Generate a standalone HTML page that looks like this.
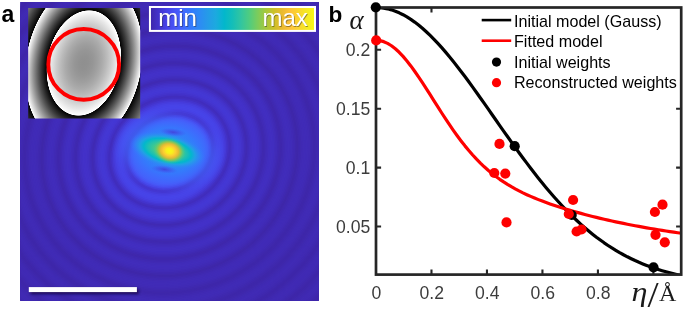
<!DOCTYPE html>
<html><head><meta charset="utf-8"><title>figure</title>
<style>html,body{margin:0;padding:0;background:#fff}svg{display:block}</style></head>
<body>
<svg width="685" height="309" viewBox="0 0 685 309">
<defs><radialGradient id="bh" cx="0.5" cy="0.5" r="0.5"><stop offset="0" stop-color="#2798ea" stop-opacity="1"/><stop offset="0.3" stop-color="#2d8bf4" stop-opacity="1"/><stop offset="0.5" stop-color="#327dfb" stop-opacity="0.9"/><stop offset="0.65" stop-color="#3b70fd" stop-opacity="0.7"/><stop offset="0.8" stop-color="#4367fd" stop-opacity="0.4"/><stop offset="0.9" stop-color="#455ffa" stop-opacity="0.18"/><stop offset="1" stop-color="#4758f7" stop-opacity="0"/></radialGradient><radialGradient id="ba" cx="0.5" cy="0.5" r="0.5"><stop offset="0" stop-color="#82cb58" stop-opacity="1"/><stop offset="0.2" stop-color="#68cc6c" stop-opacity="1"/><stop offset="0.35" stop-color="#42c98e" stop-opacity="1"/><stop offset="0.5" stop-color="#20c1af" stop-opacity="1"/><stop offset="0.62" stop-color="#02b7cc" stop-opacity="1"/><stop offset="0.72" stop-color="#20a4e3" stop-opacity="0.9"/><stop offset="0.82" stop-color="#2a91ef" stop-opacity="0.65"/><stop offset="0.92" stop-color="#3181f9" stop-opacity="0.28"/><stop offset="1" stop-color="#3972fd" stop-opacity="0"/></radialGradient><radialGradient id="bb" cx="0.5" cy="0.5" r="0.5"><stop offset="0" stop-color="#f9fb14" stop-opacity="1"/><stop offset="0.2" stop-color="#f7f01e" stop-opacity="1"/><stop offset="0.38" stop-color="#fccd32" stop-opacity="1"/><stop offset="0.55" stop-color="#eaba30" stop-opacity="0.95"/><stop offset="0.7" stop-color="#b4c535" stop-opacity="0.7"/><stop offset="0.85" stop-color="#79cc5e" stop-opacity="0.3"/><stop offset="1" stop-color="#4ecc81" stop-opacity="0"/></radialGradient><radialGradient id="dk" cx="0.5" cy="0.5" r="0.5"><stop offset="0" stop-color="#4538d5" stop-opacity="0.8"/><stop offset="0.5" stop-color="#4742e6" stop-opacity="0.45"/><stop offset="1" stop-color="#484df0" stop-opacity="0"/></radialGradient><linearGradient id="cb" x1="0" x2="1" y1="0" y2="0"><stop offset="0" stop-color="#3e26a8"/><stop offset="0.05" stop-color="#4332ca"/><stop offset="0.1" stop-color="#4742e6"/><stop offset="0.15" stop-color="#4854f6"/><stop offset="0.2" stop-color="#4367fd"/><stop offset="0.25" stop-color="#337afd"/><stop offset="0.3" stop-color="#2d8bf4"/><stop offset="0.35" stop-color="#259be8"/><stop offset="0.4" stop-color="#1caadf"/><stop offset="0.45" stop-color="#02b7cc"/><stop offset="0.5" stop-color="#14beb8"/><stop offset="0.55" stop-color="#31c5a1"/><stop offset="0.6" stop-color="#4ecc81"/><stop offset="0.65" stop-color="#79cc5e"/><stop offset="0.7" stop-color="#a4c83e"/><stop offset="0.75" stop-color="#cbc128"/><stop offset="0.8" stop-color="#eaba30"/><stop offset="0.85" stop-color="#fec239"/><stop offset="0.9" stop-color="#fad52e"/><stop offset="0.95" stop-color="#f5e924"/><stop offset="1" stop-color="#f9fb14"/></linearGradient><radialGradient id="ig" gradientUnits="userSpaceOnUse" cx="0" cy="0" r="2.4" gradientTransform="translate(83.8 63) rotate(11) scale(36.2 52.8)"><stop offset="0.0000" stop-color="#8f8f8f"/><stop offset="0.0521" stop-color="#919191"/><stop offset="0.1042" stop-color="#969696"/><stop offset="0.1562" stop-color="#9f9f9f"/><stop offset="0.2083" stop-color="#ababab"/><stop offset="0.2604" stop-color="#bbbbbb"/><stop offset="0.3125" stop-color="#cecece"/><stop offset="0.3646" stop-color="#e5e5e5"/><stop offset="0.4167" stop-color="#ffffff"/><stop offset="0.4167" stop-color="#ffffff"/><stop offset="0.4217" stop-color="#000000"/><stop offset="0.4217" stop-color="#040404"/><stop offset="0.4515" stop-color="#1d1d1d"/><stop offset="0.4814" stop-color="#383838"/><stop offset="0.5112" stop-color="#555555"/><stop offset="0.5410" stop-color="#747474"/><stop offset="0.5709" stop-color="#949494"/><stop offset="0.6007" stop-color="#b6b6b6"/><stop offset="0.6306" stop-color="#dadada"/><stop offset="0.6604" stop-color="#ffffff"/><stop offset="0.6604" stop-color="#ffffff"/><stop offset="0.6654" stop-color="#000000"/><stop offset="0.6654" stop-color="#030303"/><stop offset="0.7072" stop-color="#212121"/><stop offset="0.7491" stop-color="#404040"/><stop offset="0.7909" stop-color="#616161"/><stop offset="0.8327" stop-color="#848484"/><stop offset="0.8745" stop-color="#a8a8a8"/><stop offset="0.9164" stop-color="#cfcfcf"/><stop offset="0.9582" stop-color="#f7f7f7"/><stop offset="1.0000" stop-color="#ffffff"/></radialGradient><clipPath id="imc"><rect x="20.6" y="2" width="298.1" height="298.7"/></clipPath><clipPath id="ic"><rect x="28.2" y="8" width="112" height="110.6"/></clipPath><clipPath id="pc"><rect x="376" y="7.5" width="305.2" height="267.1"/></clipPath><filter id="sh" x="-10%" y="-100%" width="120%" height="300%"><feGaussianBlur stdDeviation="1.4"/></filter><filter id="bl" x="-20%" y="-20%" width="140%" height="140%"><feGaussianBlur stdDeviation="0.6"/></filter></defs>
<rect width="685" height="309" fill="#fff"/>
<rect x="20.6" y="2" width="298.1" height="298.7" fill="#3f29b0"/>
<g clip-path="url(#imc)"><g transform="translate(169.5 152.5) rotate(-26)"><ellipse rx="221.6" ry="214.4" fill="#3f29b2"/><ellipse rx="220.1" ry="212.9" fill="#3f29b0"/><ellipse rx="218.6" ry="211.4" fill="#3f28ae"/><ellipse rx="217.1" ry="209.9" fill="#3e27ab"/><ellipse rx="215.6" ry="208.4" fill="#3e26a9"/><ellipse rx="214.1" ry="206.9" fill="#3e26a9"/><ellipse rx="212.6" ry="205.4" fill="#3f27ac"/><ellipse rx="211.1" ry="203.9" fill="#3f28af"/><ellipse rx="209.6" ry="202.4" fill="#3f29b1"/><ellipse rx="208.1" ry="200.9" fill="#402ab3"/><ellipse rx="206.6" ry="199.4" fill="#402ab3"/><ellipse rx="205.1" ry="197.9" fill="#402ab3"/><ellipse rx="203.6" ry="196.4" fill="#3f29b1"/><ellipse rx="202.1" ry="194.9" fill="#3f29af"/><ellipse rx="200.6" ry="193.4" fill="#3f28ad"/><ellipse rx="199.1" ry="191.9" fill="#3e27aa"/><ellipse rx="197.6" ry="190.4" fill="#3e26a9"/><ellipse rx="196.1" ry="188.9" fill="#3f27ab"/><ellipse rx="194.6" ry="187.4" fill="#3f28ae"/><ellipse rx="193.1" ry="185.9" fill="#3f29b1"/><ellipse rx="191.6" ry="184.4" fill="#402ab3"/><ellipse rx="190.1" ry="182.9" fill="#402ab4"/><ellipse rx="188.6" ry="181.4" fill="#402ab4"/><ellipse rx="187.1" ry="179.9" fill="#402ab3"/><ellipse rx="185.6" ry="178.4" fill="#3f29b1"/><ellipse rx="184.1" ry="176.9" fill="#3f28ae"/><ellipse rx="182.6" ry="175.4" fill="#3e27ab"/><ellipse rx="181.1" ry="173.9" fill="#3e26a9"/><ellipse rx="179.6" ry="172.4" fill="#3e27ab"/><ellipse rx="178.1" ry="170.9" fill="#3f28ae"/><ellipse rx="176.6" ry="169.4" fill="#3f29b1"/><ellipse rx="175.1" ry="167.9" fill="#402ab3"/><ellipse rx="173.6" ry="166.4" fill="#402ab4"/><ellipse rx="172.1" ry="164.9" fill="#402bb5"/><ellipse rx="170.6" ry="163.4" fill="#402ab4"/><ellipse rx="169.1" ry="161.9" fill="#3f2ab2"/><ellipse rx="167.6" ry="160.4" fill="#3f29af"/><ellipse rx="166.1" ry="158.9" fill="#3f28ac"/><ellipse rx="164.6" ry="157.4" fill="#3e27aa"/><ellipse rx="163.1" ry="155.9" fill="#3e27aa"/><ellipse rx="161.6" ry="154.4" fill="#3f28ad"/><ellipse rx="160.1" ry="152.9" fill="#3f29b0"/><ellipse rx="158.6" ry="151.4" fill="#402ab3"/><ellipse rx="157.1" ry="149.9" fill="#402bb5"/><ellipse rx="155.6" ry="148.4" fill="#402bb6"/><ellipse rx="154.1" ry="146.9" fill="#402bb5"/><ellipse rx="152.6" ry="145.4" fill="#402ab4"/><ellipse rx="151.1" ry="143.9" fill="#3f29b1"/><ellipse rx="149.6" ry="142.4" fill="#3f28ae"/><ellipse rx="148.1" ry="140.9" fill="#3e27ab"/><ellipse rx="146.6" ry="139.4" fill="#3e27aa"/><ellipse rx="145.1" ry="137.9" fill="#3f28ad"/><ellipse rx="143.6" ry="136.4" fill="#3f29b0"/><ellipse rx="142.1" ry="134.9" fill="#402ab4"/><ellipse rx="140.6" ry="133.4" fill="#402bb6"/><ellipse rx="139.1" ry="131.9" fill="#402bb7"/><ellipse rx="137.6" ry="130.4" fill="#402bb7"/><ellipse rx="136.1" ry="128.9" fill="#402bb6"/><ellipse rx="134.6" ry="127.4" fill="#402ab4"/><ellipse rx="133.1" ry="125.9" fill="#3f29b0"/><ellipse rx="131.6" ry="124.4" fill="#3f28ad"/><ellipse rx="130.1" ry="122.9" fill="#3e27a9"/><ellipse rx="128.6" ry="121.4" fill="#3f28ac"/><ellipse rx="127.1" ry="119.9" fill="#3f29b1"/><ellipse rx="125.6" ry="118.4" fill="#402ab5"/><ellipse rx="124.1" ry="116.9" fill="#402cb8"/><ellipse rx="122.6" ry="115.4" fill="#412cba"/><ellipse rx="121.1" ry="113.9" fill="#412dbb"/><ellipse rx="119.6" ry="112.4" fill="#412cba"/><ellipse rx="118.1" ry="110.9" fill="#402cb8"/><ellipse rx="116.6" ry="109.4" fill="#402ab4"/><ellipse rx="115.1" ry="107.9" fill="#3f29b0"/><ellipse rx="113.6" ry="106.4" fill="#3f27ac"/><ellipse rx="112.1" ry="104.9" fill="#3f28ad"/><ellipse rx="110.6" ry="103.4" fill="#3f29b2"/><ellipse rx="109.1" ry="101.9" fill="#402bb7"/><ellipse rx="107.6" ry="100.4" fill="#412dbb"/><ellipse rx="106.1" ry="98.9" fill="#412ebf"/><ellipse rx="104.6" ry="97.4" fill="#422fc0"/><ellipse rx="103.1" ry="95.9" fill="#422ec0"/><ellipse rx="101.6" ry="94.4" fill="#412ebe"/><ellipse rx="100.1" ry="92.9" fill="#412cba"/><ellipse rx="98.6" ry="91.4" fill="#402bb6"/><ellipse rx="97.1" ry="89.9" fill="#3f29b1"/><ellipse rx="95.6" ry="88.4" fill="#3f29af"/><ellipse rx="94.1" ry="86.9" fill="#402ab5"/><ellipse rx="92.6" ry="85.4" fill="#412dbb"/><ellipse rx="91.1" ry="83.9" fill="#422fc1"/><ellipse rx="89.6" ry="82.4" fill="#4230c5"/><ellipse rx="88.1" ry="80.9" fill="#4331c8"/><ellipse rx="86.6" ry="79.4" fill="#4331c8"/><ellipse rx="85.1" ry="77.9" fill="#4331c7"/><ellipse rx="83.6" ry="76.4" fill="#4230c4"/><ellipse rx="82.1" ry="74.9" fill="#412ebe"/><ellipse rx="80.6" ry="73.4" fill="#402cb8"/><ellipse rx="79.1" ry="71.9" fill="#402ab3"/><ellipse rx="77.6" ry="70.4" fill="#402cb9"/><ellipse rx="76.1" ry="68.9" fill="#422fc1"/><ellipse rx="74.6" ry="67.4" fill="#4332c9"/><ellipse rx="73.1" ry="65.9" fill="#4435ce"/><ellipse rx="71.6" ry="64.4" fill="#4437d2"/><ellipse rx="70.1" ry="62.9" fill="#4438d4"/><ellipse rx="68.6" ry="61.4" fill="#4437d4"/><ellipse rx="67.1" ry="59.9" fill="#4436d1"/><ellipse rx="65.6" ry="58.4" fill="#4333cc"/><ellipse rx="64.1" ry="56.9" fill="#4230c5"/><ellipse rx="62.6" ry="55.4" fill="#412dbd"/><ellipse rx="61.1" ry="53.9" fill="#422fc0"/><ellipse rx="59.6" ry="52.4" fill="#4333cb"/><ellipse rx="58.1" ry="50.9" fill="#4538d5"/><ellipse rx="56.6" ry="49.4" fill="#463dde"/><ellipse rx="55.1" ry="47.9" fill="#4741e4"/><ellipse rx="53.6" ry="46.4" fill="#4743e7"/><ellipse rx="52.1" ry="44.9" fill="#4744e8"/><ellipse rx="50.6" ry="43.4" fill="#4743e7"/><ellipse rx="49.1" ry="41.9" fill="#4740e3"/><ellipse rx="47.6" ry="40.4" fill="#453cdb"/><ellipse rx="46.1" ry="38.9" fill="#4437d2"/><ellipse rx="44.6" ry="37.4" fill="#4435cf"/><ellipse rx="43.1" ry="35.9" fill="#453cdb"/><ellipse rx="41.6" ry="34.4" fill="#4745e9"/><ellipse rx="40.1" ry="32.9" fill="#484ff1"/><ellipse rx="38.6" ry="31.4" fill="#4757f7"/><ellipse rx="37.1" ry="29.9" fill="#465df9"/><ellipse rx="35.6" ry="28.4" fill="#4560fa"/><ellipse rx="34.1" ry="26.9" fill="#4462fb"/><ellipse rx="32.6" ry="25.4" fill="#4464fc"/><ellipse rx="31.1" ry="23.9" fill="#4366fd"/><ellipse rx="29.6" ry="22.4" fill="#4367fd"/><ellipse rx="28.1" ry="20.9" fill="#4169fd"/><ellipse rx="26.6" ry="19.4" fill="#406bfd"/><ellipse rx="25.1" ry="17.9" fill="#3e6dfd"/><ellipse rx="23.6" ry="16.4" fill="#3d6ffd"/><ellipse rx="22.1" ry="14.9" fill="#3c6ffd"/><ellipse rx="20.6" ry="13.4" fill="#3b70fd"/><ellipse rx="19.1" ry="11.9" fill="#3a71fd"/><ellipse rx="17.6" ry="10.4" fill="#3a72fd"/><ellipse rx="16.1" ry="8.9" fill="#3973fd"/></g></g>
<g transform="translate(169 150.8) rotate(11)">
<ellipse cx="0" cy="0" rx="58" ry="42" fill="url(#bh)"/>
</g>
<g transform="translate(169 150.8) rotate(13)">
<ellipse cx="-1.5" cy="0" rx="39" ry="18" fill="url(#ba)"/>
<ellipse cx="0.5" cy="0" rx="16.5" ry="13" fill="url(#bb)"/>
</g>
<ellipse cx="173" cy="132.2" rx="13.5" ry="4" fill="url(#dk)" transform="rotate(7 173 132.2)"/>
<ellipse cx="164.3" cy="169.4" rx="13.5" ry="4" fill="url(#dk)" transform="rotate(7 164.3 169.4)"/>
<g clip-path="url(#ic)"><rect x="28" y="7" width="113" height="112" fill="url(#ig)"/></g>
<circle cx="83.7" cy="64.4" r="35.4" fill="none" stroke="#fe0000" stroke-width="3.9"/>
<rect x="149.95" y="7" width="165.05" height="23.9" fill="url(#cb)" stroke="#fff" stroke-width="2"/>
<text x="159.1" y="27" font-family="'Liberation Sans',sans-serif" font-size="24" fill="#222" fill-opacity="0.45">min</text>
<text x="308.6" y="27" text-anchor="end" font-family="'Liberation Sans',sans-serif" font-size="24" fill="#222" fill-opacity="0.45">max</text>
<text x="158.3" y="26.2" font-family="'Liberation Sans',sans-serif" font-size="24" fill="#fff">min</text>
<text x="307.8" y="26.2" text-anchor="end" font-family="'Liberation Sans',sans-serif" font-size="24" fill="#fff">max</text>
<rect x="30.6" y="289.1" width="108.1" height="5" fill="#14063c" fill-opacity="0.8" filter="url(#sh)"/>
<rect x="28.8" y="287.1" width="108.1" height="5" fill="#fff"/>
<text x="1.5" y="21.6" font-family="'Liberation Sans',sans-serif" font-weight="bold" font-size="23" fill="#000">a</text>
<text x="328.5" y="21.6" font-family="'Liberation Sans',sans-serif" font-weight="bold" font-size="22.6" fill="#000">b</text>
<g clip-path="url(#pc)">
<path d="M376.00 7.46 L379.87 7.61 L383.73 8.06 L387.60 8.81 L391.47 9.86 L395.34 11.19 L399.20 12.82 L403.07 14.73 L406.94 16.91 L410.80 19.37 L414.67 22.09 L418.54 25.06 L422.41 28.27 L426.27 31.72 L430.14 35.40 L434.01 39.28 L437.87 43.37 L441.74 47.65 L445.61 52.10 L449.47 56.72 L453.34 61.49 L457.21 66.39 L461.08 71.42 L464.94 76.56 L468.81 81.80 L472.68 87.12 L476.54 92.50 L480.41 97.95 L484.28 103.43 L488.15 108.95 L492.01 114.48 L495.88 120.02 L499.75 125.55 L503.61 131.06 L507.48 136.54 L511.35 141.99 L515.22 147.38 L519.08 152.71 L522.95 157.97 L526.82 163.16 L530.68 168.26 L534.55 173.26 L538.42 178.17 L542.29 182.97 L546.15 187.67 L550.02 192.24 L553.89 196.70 L557.75 201.04 L561.62 205.25 L565.49 209.32 L569.35 213.27 L573.22 217.09 L577.09 220.77 L580.96 224.32 L584.82 227.73 L588.69 231.01 L592.56 234.16 L596.42 237.18 L600.29 240.06 L604.16 242.82 L608.03 245.45 L611.89 247.96 L615.76 250.34 L619.63 252.61 L623.49 254.76 L627.36 256.80 L631.23 258.73 L635.10 260.56 L638.96 262.28 L642.83 263.90 L646.70 265.43 L650.56 266.87 L654.43 268.22 L658.30 269.49 L662.17 270.67 L666.03 271.78 L669.90 272.82 L673.77 273.79 L677.63 274.69 L681.50 275.53" fill="none" stroke="#000" stroke-width="3.2" stroke-linejoin="round"/>
<path d="M376.00 40.29 L379.87 40.64 L383.73 41.67 L387.60 43.39 L391.47 45.75 L395.34 48.73 L399.20 52.29 L403.07 56.37 L406.94 60.93 L410.80 65.90 L414.67 71.22 L418.54 76.83 L422.41 82.65 L426.27 88.64 L430.14 94.73 L434.01 100.85 L437.87 106.96 L441.74 113.00 L445.61 118.94 L449.47 124.73 L453.34 130.34 L457.21 135.74 L461.08 140.92 L464.94 145.86 L468.81 150.55 L472.68 154.99 L476.54 159.17 L480.41 163.10 L484.28 166.79 L488.15 170.24 L492.01 173.47 L495.88 176.49 L499.75 179.31 L503.61 181.94 L507.48 184.41 L511.35 186.72 L515.22 188.89 L519.08 190.93 L522.95 192.86 L526.82 194.68 L530.68 196.41 L534.55 198.05 L538.42 199.61 L542.29 201.11 L546.15 202.54 L550.02 203.92 L553.89 205.25 L557.75 206.53 L561.62 207.77 L565.49 208.96 L569.35 210.13 L573.22 211.25 L577.09 212.35 L580.96 213.41 L584.82 214.45 L588.69 215.46 L592.56 216.44 L596.42 217.39 L600.29 218.33 L604.16 219.23 L608.03 220.12 L611.89 220.98 L615.76 221.82 L619.63 222.64 L623.49 223.44 L627.36 224.21 L631.23 224.97 L635.10 225.71 L638.96 226.43 L642.83 227.13 L646.70 227.82 L650.56 228.49 L654.43 229.14 L658.30 229.77 L662.17 230.39 L666.03 230.99 L669.90 231.58 L673.77 232.15 L677.63 232.71 L681.50 233.26" fill="none" stroke="#fe0000" stroke-width="3.2" stroke-linejoin="round"/>
</g>
<rect x="376" y="7.5" width="305.2" height="267.1" fill="none" stroke="#262626" stroke-width="2.7"/>
<path d="M431.48 274.60 v-5.1 M431.48 7.50 v5.1 M486.96 274.60 v-5.1 M542.44 274.60 v-5.1 M597.92 274.60 v-5.1 M653.40 274.60 v-5.1 M376.00 226.50 h5.1 M681.20 226.50 h-5.1 M376.00 167.60 h5.1 M681.20 167.60 h-5.1 M376.00 108.70 h5.1 M681.20 108.70 h-5.1 M376.00 49.80 h5.1" stroke="#262626" stroke-width="2.1" fill="none"/>
<circle cx="375.8" cy="7.3" r="5.1" fill="#000"/>
<circle cx="514.7" cy="146.2" r="5.1" fill="#000"/>
<circle cx="571.7" cy="215" r="5.1" fill="#000"/>
<circle cx="653.5" cy="267.3" r="5.1" fill="#000"/>
<circle cx="376.2" cy="40.4" r="5.1" fill="#fe0000"/>
<circle cx="499.5" cy="143.9" r="5.1" fill="#fe0000"/>
<circle cx="494.3" cy="173" r="5.1" fill="#fe0000"/>
<circle cx="505.3" cy="173.6" r="5.1" fill="#fe0000"/>
<circle cx="506.5" cy="222.4" r="5.1" fill="#fe0000"/>
<circle cx="568.8" cy="214" r="5.1" fill="#fe0000"/>
<circle cx="573.1" cy="200" r="5.1" fill="#fe0000"/>
<circle cx="576.6" cy="231.5" r="5.1" fill="#fe0000"/>
<circle cx="581.5" cy="229.5" r="5.1" fill="#fe0000"/>
<circle cx="662.5" cy="204.7" r="5.1" fill="#fe0000"/>
<circle cx="654.9" cy="212" r="5.1" fill="#fe0000"/>
<circle cx="655.5" cy="234.8" r="5.1" fill="#fe0000"/>
<circle cx="664.8" cy="242.3" r="5.1" fill="#fe0000"/>
<text x="376.3" y="298.8" text-anchor="middle" font-family="'Liberation Sans',sans-serif" font-size="17.6" fill="#3c3c3c">0</text>
<text x="431.8" y="298.8" text-anchor="middle" font-family="'Liberation Sans',sans-serif" font-size="17.6" fill="#3c3c3c">0.2</text>
<text x="487.3" y="298.8" text-anchor="middle" font-family="'Liberation Sans',sans-serif" font-size="17.6" fill="#3c3c3c">0.4</text>
<text x="542.7" y="298.8" text-anchor="middle" font-family="'Liberation Sans',sans-serif" font-size="17.6" fill="#3c3c3c">0.6</text>
<text x="598.2" y="298.8" text-anchor="middle" font-family="'Liberation Sans',sans-serif" font-size="17.6" fill="#3c3c3c">0.8</text>
<text x="370.3" y="232.7" text-anchor="end" font-family="'Liberation Sans',sans-serif" font-size="17.6" fill="#3c3c3c">0.05</text>
<text x="370.3" y="173.8" text-anchor="end" font-family="'Liberation Sans',sans-serif" font-size="17.6" fill="#3c3c3c">0.1</text>
<text x="370.3" y="114.9" text-anchor="end" font-family="'Liberation Sans',sans-serif" font-size="17.6" fill="#3c3c3c">0.15</text>
<text x="370.3" y="56.0" text-anchor="end" font-family="'Liberation Sans',sans-serif" font-size="17.6" fill="#3c3c3c">0.2</text>
<text x="349.5" y="29" font-family="'Liberation Serif',serif" font-style="italic" font-size="27" fill="#1a1a1a">α</text>
<text transform="translate(631.4 300.9) scale(1.15 1)" font-family="'Liberation Serif',serif" font-style="italic" font-size="28" fill="#1a1a1a">η</text>
<text transform="translate(647.6 306.9) scale(1.15 1)" font-family="'Liberation Serif',serif" font-size="34.8" fill="#1a1a1a">/</text>
<text x="659" y="301.4" font-family="'Liberation Serif',serif" font-size="24" fill="#1a1a1a">Å</text>
<path d="M481.7 20.1 H511.2" stroke="#000" stroke-width="2.6"/>
<path d="M481.7 40.7 H511.2" stroke="#fe0000" stroke-width="2.6"/>
<circle cx="496.5" cy="62.1" r="4.6" fill="#000"/>
<circle cx="496.5" cy="82.7" r="4.6" fill="#fe0000"/>
<text x="514" y="26.9" font-family="'Liberation Sans',sans-serif" font-size="16.1" fill="#000">Initial model (Gauss)</text>
<text x="514" y="47.4" font-family="'Liberation Sans',sans-serif" font-size="16.1" fill="#000">Fitted model</text>
<text x="514" y="68" font-family="'Liberation Sans',sans-serif" font-size="16.1" fill="#000">Initial weights</text>
<text x="514" y="87.9" font-family="'Liberation Sans',sans-serif" font-size="16.1" fill="#000">Reconstructed weights</text>
</svg>
</body></html>
